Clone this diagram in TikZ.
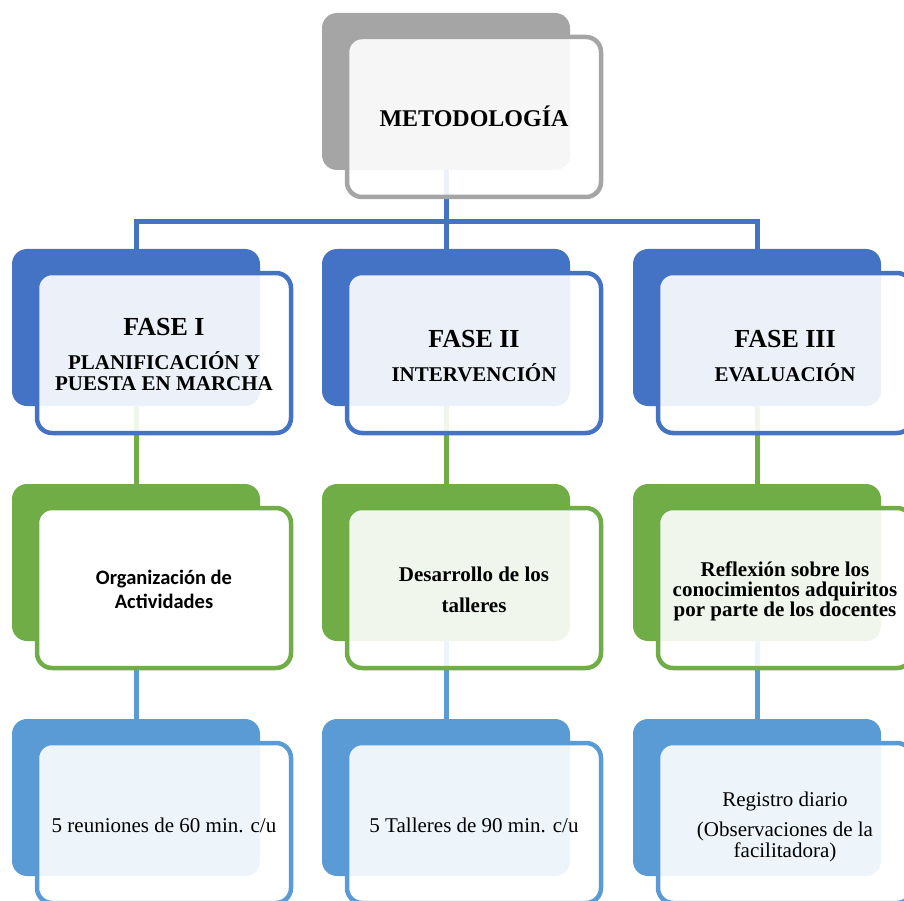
\documentclass[tikz,border=0pt]{standalone}
\usepackage{fontspec}
\setmainfont{Liberation Serif}
\newfontfamily\calibrifont{Carlito}
\usetikzlibrary{backgrounds}
\definecolor{cgray}{HTML}{A5A5A5}
\definecolor{cblue}{HTML}{4472C4}
\definecolor{cgreen}{HTML}{70AD47}
\definecolor{clblue}{HTML}{5B9BD5}
\begin{document}
\begin{tikzpicture}[x=1pt,y=-1pt,
  back/.style={rectangle, rounded corners=15pt, minimum width=248pt, minimum height=157pt,
    inner sep=0pt, outer sep=0pt, anchor=north west, fill=#1},
  front/.style={rectangle, rounded corners=15pt, minimum width=254pt, minimum height=160pt,
    inner sep=0pt, outer sep=0pt, anchor=north west, draw=#1, line width=4.5pt,
    fill=white, fill opacity=0.9},
  txt/.style={align=center, inner sep=0pt, font=\fontsize{21}{21}\selectfont},
  conn/.style={line width=5pt, draw=#1},
]
\useasboundingbox (0,0) rectangle (904,901);
\clip (0,0) rectangle (904,901);

% row 1
\node[back=cgray] (b0) at (322,13) {};
\node[front=cgray] (f0) at (347,37) {};
\node[txt, font=\bfseries\fontsize{24}{24}\selectfont] (t0) at ([yshift=1pt]f0.center) {METODOLOGÍA};

% row 2
\node[back=cblue] (b11) at (12,249) {};
\node[back=cblue] (b12) at (322,249) {};
\node[back=cblue] (b13) at (633,249) {};
\node[front=cblue] (f11) at (37,273) {};
\node[front=cblue] (f12) at (347,273) {};
\node[front=cblue] (f13) at (658,273) {};
\node[txt, font=\bfseries\fontsize{21}{21}\selectfont] (t11) at ([yshift=-1pt]f11.center)
  {{\fontsize{26}{26}\selectfont FASE I}\\[13pt]PLANIFICACIÓN Y\\PUESTA EN MARCHA};
\node[txt, font=\bfseries\fontsize{21}{21}\selectfont] (t12) at ([yshift=-3pt]f12.center)
  {{\fontsize{26}{26}\selectfont FASE II}\\[13pt]INTERVENCIÓN};
\node[txt, font=\bfseries\fontsize{21}{21}\selectfont] (t13) at ([yshift=-3pt]f13.center)
  {{\fontsize{26}{26}\selectfont FASE III}\\[13pt]EVALUACIÓN};

% row 3
\node[back=cgreen] (b21) at (12,484) {};
\node[back=cgreen] (b22) at (322,484) {};
\node[back=cgreen] (b23) at (633,484) {};
\node[front=cgreen, fill opacity=1] (f21) at (37,508) {};
\node[front=cgreen] (f22) at (347,508) {};
\node[front=cgreen] (f23) at (658,508) {};
\node[txt, font=\calibrifont\bfseries\fontsize{20.5}{24}\selectfont] (t21) at ([yshift=-1pt]f21.center)
  {Organización de\\Actividades};
\node[txt, font=\bfseries\fontsize{21}{21}\selectfont] (t22) at ([yshift=-2pt]f22.center)
  {Desarrollo de los\\[10pt]talleres};
\node[txt, font=\bfseries\fontsize{21}{20}\selectfont] (t23) at ([yshift=-3pt]f23.center)
  {Reflexión sobre los\\conocimientos adquiritos\\por parte de los docentes};

% row 4
\node[back=clblue] (b31) at (12,719) {};
\node[back=clblue] (b32) at (322,719) {};
\node[back=clblue] (b33) at (633,719) {};
\node[front=clblue] (f31) at (37,743) {};
\node[front=clblue] (f32) at (347,743) {};
\node[front=clblue] (f33) at (658,743) {};
\node[txt] (t31) at ([yshift=-2pt]f31.center) {5 reuniones de 60 min. c/u};
\node[txt] (t32) at ([yshift=-2pt]f32.center) {5 Talleres de 90 min. c/u};
\node[txt, font=\fontsize{21}{19}\selectfont] (t33) at ([yshift=-4pt]f33.center)
  {Registro diario\\[10pt](Observaciones de la\\facilitadora)};

% connectors behind the boxes
\begin{scope}[on background layer]
  \coordinate (bar) at (446,222);
  \draw[conn=cblue] (b0.south) -- (b12.north);
  \draw[conn=cblue] (b11.north) -- (b11.north |- bar) -- (b13.north |- bar) -- (b13.north);
  \draw[conn=cgreen] (b11.south) -- (b21.north);
  \draw[conn=cgreen] (b12.south) -- (b22.north);
  \draw[conn=cgreen] (b13.south) -- (b23.north);
  \draw[conn=clblue] (b21.south) -- (b31.north);
  \draw[conn=clblue] (b22.south) -- (b32.north);
  \draw[conn=clblue] (b23.south) -- (b33.north);
\end{scope}
\end{tikzpicture}
\end{document}
